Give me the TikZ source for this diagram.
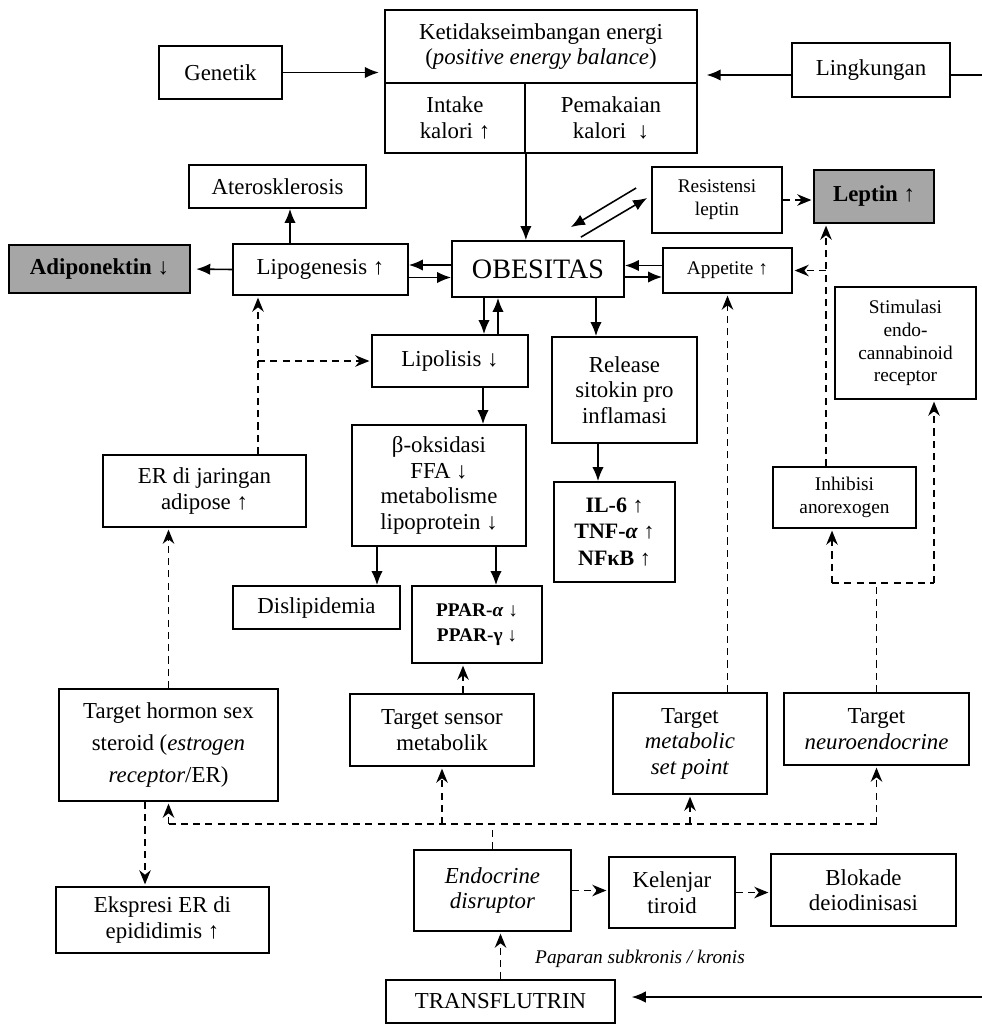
\documentclass[tikz,border=0pt]{standalone}
\usepackage{fontspec}
\setmainfont{Liberation Serif}
\usetikzlibrary{positioning,calc,arrows.meta}

\begin{document}
\begin{tikzpicture}[
	box/.style={draw, line width=1pt, align=center, inner sep=1pt, font=\fontsize{13}{14.5}\selectfont},
	smallbox/.style={box, font=\fontsize{11}{13}\selectfont},
	greybox/.style={box, fill=gray!70, font=\fontsize{13}{14.5}\selectfont\bfseries},
	arr/.style={-{Latex[length=8pt,width=6.5pt]}, line width=0.9pt},
	dashline/.style={line width=0.85pt, dash pattern=on 4pt off 3pt},
	darr/.style={dashline, -{Stealth[length=8pt,width=6.5pt,inset=2.5pt]}, shorten >=1pt}
]
		\useasboundingbox (0,0) rectangle (19.64,-20.52);
		\clip (0,0) rectangle (19.64,-20.52);

		\node[box, minimum width=6.24cm, minimum height=1.46cm] (ketid) at (10.82,-0.93) {Ketidakseimbangan energi\\(\textit{positive energy balance})};
		\node[box, minimum width=2.8cm, minimum height=1.4cm] (intake) at (9.1,-2.36) {Intake\\kalori ↑};
		\node[box, minimum width=3.44cm, minimum height=1.4cm] (pakai) at (12.22,-2.36) {Pemakaian\\kalori\enspace↓};
		\node[box, minimum width=2.46cm, minimum height=1.06cm] (gen) at (4.41,-1.45) {Genetik};
		\node[box, minimum width=3.16cm, minimum height=1.08cm] (ling) at (17.42,-1.40) {Lingkungan};
		\node[box, minimum width=3.54cm, minimum height=0.86cm] (ater) at (5.55,-3.73) {Aterosklerosis};
		\node[greybox, minimum width=3.62cm, minimum height=0.96cm] (adipo) at (1.99,-5.38) {Adiponektin ↓};
		\node[box, minimum width=3.5cm, minimum height=1.02cm] (lipog) at (6.41,-5.39) {Lipogenesis ↑};
		\node[box, minimum width=3.44cm, minimum height=1.12cm, font=\fontsize{16}{18}\selectfont] (obes) at (10.76,-5.38) {OBESITAS};
		\node[smallbox, minimum width=2.58cm, minimum height=0.9cm] (app) at (14.55,-5.41) {Appetite ↑};
		\node[smallbox, minimum width=2.6cm, minimum height=1.32cm] (resist) at (14.34,-4.0) {Resistensi\\leptin};
		\node[greybox, minimum width=2.4cm, minimum height=1.06cm] (leptin) at (17.48,-3.93) {Leptin ↑};
		\node[smallbox, minimum width=2.82cm, minimum height=2.24cm] (stim) at (18.11,-6.86) {Stimulasi\\endo-\\cannabinoid\\receptor};
		\node[box, minimum width=3.12cm, minimum height=1.04cm] (lipol) at (9.0,-7.22) {Lipolisis ↓};
		\node[box, minimum width=2.9cm, minimum height=2.12cm] (release) at (12.49,-7.80) {Release\\sitokin pro\\inflamasi};
		\node[box, minimum width=4.06cm, minimum height=1.44cm] (erjar) at (4.09,-9.82) {ER di jaringan\\adipose ↑};
		\node[box, minimum width=3.48cm, minimum height=2.42cm] (boks) at (8.78,-9.71) {β-oksidasi\\FFA ↓\\metabolisme\\lipoprotein ↓};
		\node[box, minimum width=2.42cm, minimum height=2.0cm, font=\fontsize{12.5}{15}\selectfont\bfseries] (sitokin) at (12.29,-10.64) {IL-6 ↑\\TNF-\textit{α} ↑\\NFκB ↑};
		\node[smallbox, minimum width=2.86cm, minimum height=1.22cm] (inhib) at (16.89,-9.95) {Inhibisi\\anorexogen};
		\node[box, minimum width=3.34cm, minimum height=0.86cm] (dislip) at (6.33,-12.15) {Dislipidemia};
		\node[box, minimum width=2.6cm, minimum height=1.54cm, font=\fontsize{11}{14}\selectfont\bfseries] (ppar) at (9.54,-12.49) {PPAR-\textit{α} ↓\\PPAR-γ ↓};
		\node[box, minimum width=4.38cm, minimum height=2.24cm, font=\fontsize{13}{18}\selectfont] (thormon) at (3.37,-14.9) {Target hormon sex\\steroid (\textit{estrogen}\\\textit{receptor}/ER)};
		\node[box, minimum width=3.68cm, minimum height=1.44cm] (tsensor) at (8.84,-14.6) {Target sensor\\metabolik};
		\node[box, minimum width=3.08cm, minimum height=2.02cm] (tmeta) at (13.8,-14.87) {Target\\\textit{metabolic}\\\textit{set point}};
		\node[box, minimum width=3.7cm, minimum height=1.44cm] (tneuro) at (17.53,-14.58) {Target\\\textit{neuroendocrine}};
		\node[box, minimum width=4.26cm, minimum height=1.32cm] (ekspr) at (3.25,-18.4) {Ekspresi ER di\\epididimis ↑};
		\node[box, minimum width=3.14cm, minimum height=1.62cm] (endo) at (9.85,-17.81) {\textit{Endocrine}\\\textit{disruptor}};
		\node[box, minimum width=2.52cm, minimum height=1.42cm] (kelenj) at (13.44,-17.85) {Kelenjar\\tiroid};
		\node[box, minimum width=3.7cm, minimum height=1.44cm] (blok) at (17.27,-17.8) {Blokade\\deiodinisasi};
		\node[box, minimum width=4.58cm, minimum height=0.86cm] (trans) at (10.01,-20.03) {TRANSFLUTRIN};
		\node[font=\fontsize{11}{13}\selectfont\itshape] (papar) at (12.8,-19.18) {Paparan subkronis / kronis};

		% panah utama
		\draw[arr, shorten >=3pt] (gen.east) -- (gen.east -| ketid.west);
		\draw[arr, shorten >=5pt] ([yshift=-0.1cm]ling.west) -- ([yshift=-0.1cm]ling.west -| ketid.east);
		\draw[arr, shorten >=9pt] ([yshift=-0.1cm]ling.east) -- ++(1,0) |- ([yshift=0.09cm]trans.east);
		\draw[arr] (intake.south east) -- (intake.south east |- obes.north);
		\draw[arr] ([xshift=-0.61cm]lipog.north) -- ([xshift=-0.61cm]lipog.north |- ater.south);
		\draw[arr, shorten >=3pt] (lipog.west) -- (adipo.east);
		\draw[arr] ([yshift=0.08cm]obes.west) -- ([yshift=0.08cm]obes.west -| lipog.east);
		\draw[arr] ([yshift=-0.16cm]lipog.east) -- ([yshift=-0.16cm]lipog.east -| obes.west);
		\draw[arr] ([yshift=0.1cm]app.west) -- ([yshift=0.1cm]app.west -| obes.east);
		\draw[arr] ([yshift=-0.16cm]obes.east) -- ([yshift=-0.16cm]obes.east -| app.west);
		\draw[arr] ($(resist.west)+(-0.3,0.24)$) -- ($(obes.north east)+(-1.08,0.26)$);
		\draw[arr] ($(obes.north east)+(-0.88,0.06)$) -- ($(resist.west)+(-0.08,0.04)$);
		\draw[arr] ([xshift=1.16cm]obes.south) -- ([xshift=1.16cm]obes.south |- release.north);
		\draw[arr] ([xshift=-0.53cm]release.south) -- ([xshift=-0.53cm]release.south |- sitokin.north);
		\draw[arr] ([xshift=-1.08cm]obes.south) -- ([xshift=-1.08cm]obes.south |- lipol.north);
		\draw[arr] ([xshift=-0.8cm]obes.south |- lipol.north) -- ([xshift=-0.8cm]obes.south);
		\draw[arr] ([xshift=0.66cm]lipol.south) -- ([xshift=0.66cm]lipol.south |- boks.north);
		\draw[arr] ([xshift=-1.24cm]boks.south) -- ([xshift=-1.24cm]boks.south |- dislip.north);
		\draw[arr] ([xshift=1.14cm]boks.south) -- ([xshift=1.14cm]boks.south |- ppar.north);

		% panah putus-putus
		\draw[darr] (resist.east) -- (resist.east -| leptin.west);
		\draw[darr] ([xshift=0.42cm]tsensor.north) -- ([xshift=0.42cm]tsensor.north |- ppar.south);
		\draw[darr] ([xshift=1.07cm]erjar.north) -- ([xshift=1.07cm]erjar.north |- lipog.south);
		\draw[darr] ([xshift=1.07cm]erjar.north |- lipol.west) -- (lipol.west);
		\draw[darr] (thormon.north) -- (thormon.north |- erjar.south);
		\draw[darr] ([xshift=-0.47cm]thormon.south) -- ([xshift=-0.47cm]thormon.south |- ekspr.north);
		\coordinate (bus) at ([yshift=0.5cm]endo.north);
		\draw[dashline] (endo.north) -- (bus);
		\draw[dashline] (bus -| thormon.south) -- (bus -| tneuro.south);
		\foreach \t in {thormon,tsensor,tmeta,tneuro}
			\draw[darr] (bus -| \t.south) -- (\t.south);
		\draw[darr] (trans.north) -- (trans.north |- endo.south);
		\draw[darr] (endo.east) -- (endo.east -| kelenj.west);
		\draw[darr] (kelenj.east) -- (kelenj.east -| blok.west);
		\coordinate (nj) at ([yshift=2.18cm]tneuro.north);
		\draw[dashline] (tneuro.north) -- (nj);
		\draw[dashline] ([xshift=-0.25cm]inhib.south |- nj) -- ([xshift=0.57cm]stim.south |- nj);
		\draw[darr] ([xshift=-0.25cm]inhib.south |- nj) -- ([xshift=-0.25cm]inhib.south);
		\draw[darr] ([xshift=0.57cm]stim.south |- nj) -- ([xshift=0.57cm]stim.south);
		\draw[darr] ([xshift=-0.37cm]inhib.north) -- ([xshift=-0.37cm]inhib.north |- leptin.south);
		\draw[darr] ([xshift=-0.37cm]inhib.north |- app.east) -- (app.east);
		\draw[darr] (app.south |- tmeta.north) -- (app.south);
\end{tikzpicture}
\end{document}
